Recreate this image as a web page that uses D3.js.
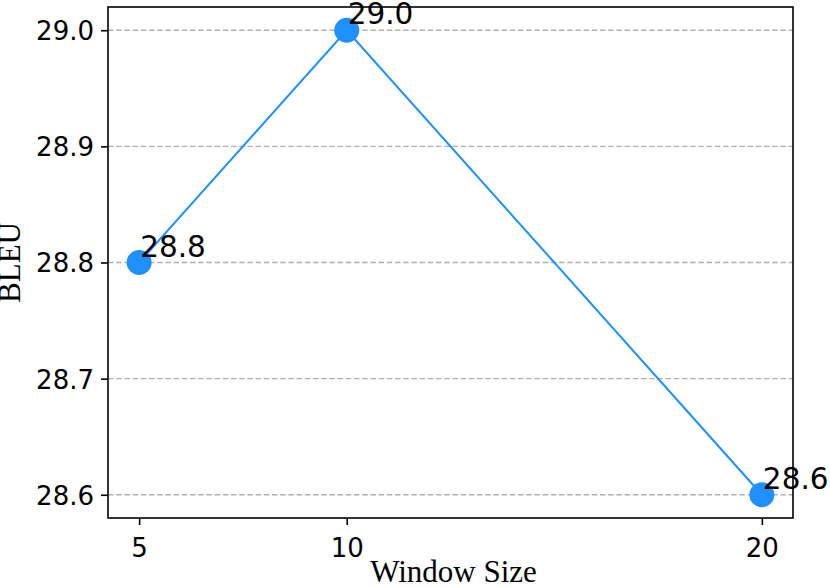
<!DOCTYPE html>
<html>
<head>
<meta charset="utf-8">
<script src="https://cdn.jsdelivr.net/npm/d3@7"></script>
<style>
  body { margin: 0; background: #fff; }
  svg { display: block; }
</style>
</head>
<body>
<div id="chart"></div>
<script>
// data
var windowSizes = [5, 10, 20];
var bleuScores = [28.8, 29.0, 28.6];
var xTicks = [5, 10, 20];
var yTicks = [28.6, 28.7, 28.8, 28.9, 29.0];

var width = 830, height = 587;
var plotLeft = 108, plotRight = 793, plotTop = 7, plotBottom = 518;

var svg = d3.select("#chart").append("svg")
  .attr("width", width)
  .attr("height", height);

var x = d3.scaleLinear().domain([4.25, 20.75]).range([plotLeft, plotRight]);
var y = d3.scaleLinear().domain([28.58, 29.02]).range([plotBottom, plotTop]);

// grid lines
svg.append("g")
  .selectAll("line")
  .data(yTicks)
  .enter()
  .append("line")
  .attr("x1", plotLeft)
  .attr("x2", plotRight)
  .attr("y1", function(d) { return y(d); })
  .attr("y2", function(d) { return y(d); })
  .attr("stroke", "#b0b0b0")
  .attr("stroke-width", 1.4)
  .attr("stroke-dasharray", "5.5,2.7");

// axes
var xAxis = d3.axisBottom(x).tickValues(xTicks).tickSize(7).tickPadding(7)
  .tickFormat(d3.format("d"));
var yAxis = d3.axisLeft(y).tickValues(yTicks).tickSize(7).tickPadding(7)
  .tickFormat(d3.format(".1f"));

var gx = svg.append("g")
  .attr("transform", "translate(0," + plotBottom + ")")
  .call(xAxis);
var gy = svg.append("g")
  .attr("transform", "translate(" + plotLeft + ",0)")
  .call(yAxis);

[gx, gy].forEach(function(g) {
  g.select(".domain").remove();
  g.selectAll(".tick line").attr("stroke", "#000").attr("stroke-width", 1.6);
  g.selectAll(".tick text")
    .attr("fill", "#000")
    .style("font-family", "'DejaVu Sans', sans-serif")
    .style("font-size", "26px");
});
gx.selectAll(".tick text").attr("dy", "0.95em");
gy.selectAll(".tick text").attr("dy", "0.36em");

// frame
svg.append("rect")
  .attr("x", plotLeft)
  .attr("y", plotTop)
  .attr("width", plotRight - plotLeft)
  .attr("height", plotBottom - plotTop)
  .attr("fill", "none")
  .attr("stroke", "#000")
  .attr("stroke-width", 1.6);

// line + markers
var line = d3.line()
  .x(function(d, i) { return x(windowSizes[i]); })
  .y(function(d) { return y(d); });

svg.append("path")
  .datum(bleuScores)
  .attr("d", line)
  .attr("fill", "none")
  .attr("stroke", "#1e90ff")
  .attr("stroke-width", 2);

svg.append("g")
  .selectAll("circle")
  .data(bleuScores)
  .enter()
  .append("circle")
  .attr("cx", function(d, i) { return x(windowSizes[i]); })
  .attr("cy", function(d) { return y(d); })
  .attr("r", 12.5)
  .attr("fill", "#1e90ff");

// value labels
svg.append("g")
  .selectAll("text")
  .data(bleuScores)
  .enter()
  .append("text")
  .attr("x", function(d, i) { return x(windowSizes[i]) + 1; })
  .attr("y", function(d) { return y(d) - 6; })
  .style("font-family", "'DejaVu Sans', sans-serif")
  .style("font-size", "29.5px")
  .attr("fill", "#000")
  .text(function(d) { return d.toFixed(1); });

// axis titles
svg.append("text")
  .attr("x", (plotLeft + plotRight) / 2 + 3)
  .attr("y", 582)
  .attr("text-anchor", "middle")
  .style("font-family", "'Liberation Serif', 'Times New Roman', serif")
  .style("font-size", "31px")
  .text("Window Size");

svg.append("text")
  .attr("transform", "translate(20," + (plotTop + plotBottom) / 2 + ") rotate(-90)")
  .attr("text-anchor", "middle")
  .style("font-family", "'Liberation Serif', 'Times New Roman', serif")
  .style("font-size", "31px")
  .text("BLEU");
</script>
</body>
</html>
